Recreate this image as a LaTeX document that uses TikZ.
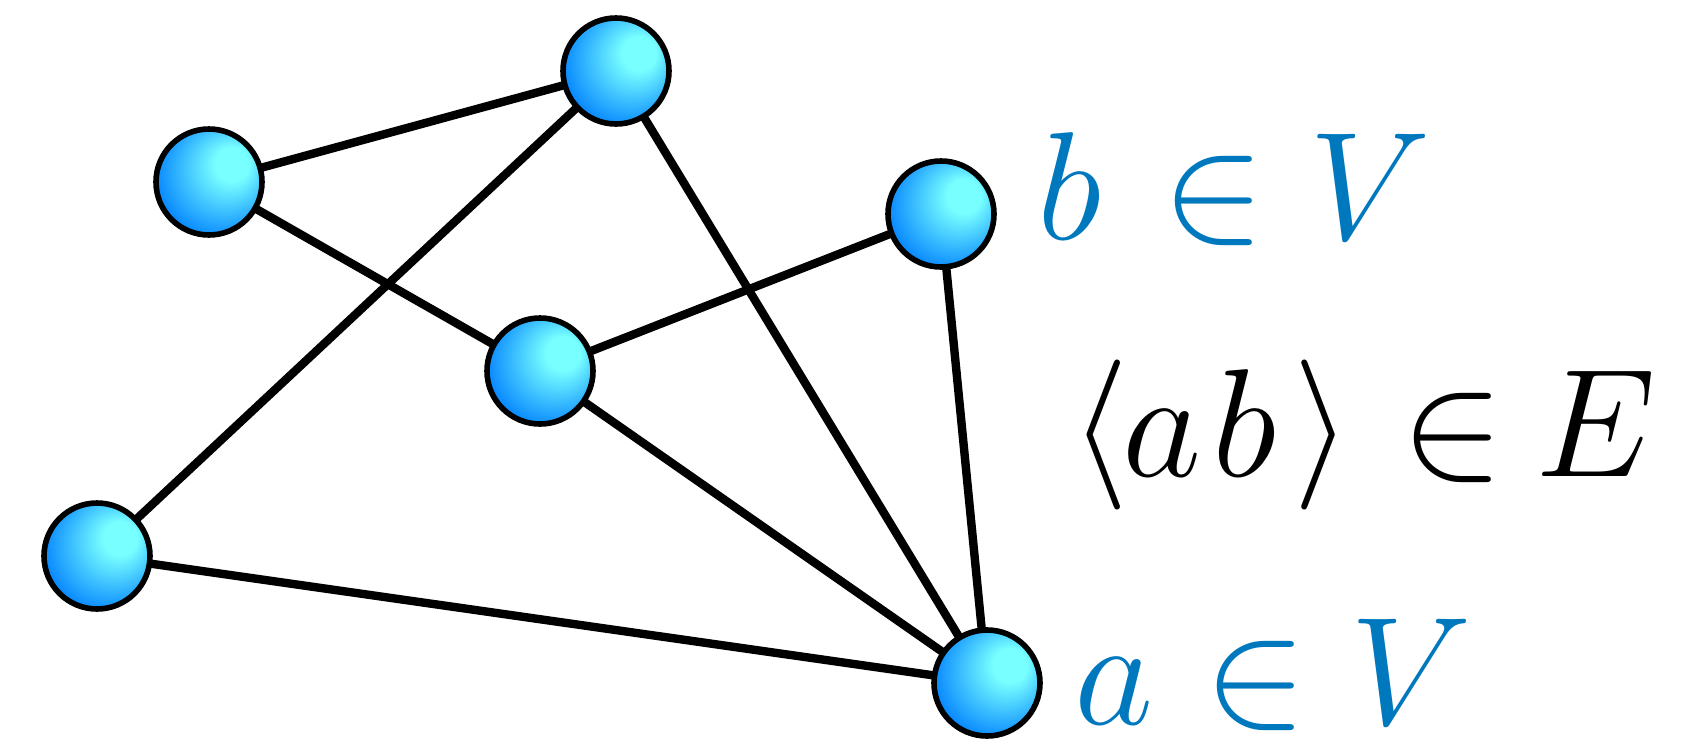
\RequirePackage{fix-cm}
\documentclass[tikz,border=0pt]{standalone}
\usepackage{amsmath}
\definecolor{hl}{HTML}{78FFFF}
\definecolor{dk}{HTML}{0080FF}
\definecolor{lblue}{RGB}{0,120,190}
\pgfdeclareradialshading{nodeball}{\pgfpoint{13bp}{10bp}}{color(0bp)=(hl); color(8bp)=(hl); color(32bp)=(dk); color(50bp)=(dk)}
\begin{document}
\begin{tikzpicture}[x=0.5pt,y=-0.5pt,
  vtx/.style={circle,minimum size=53pt,inner sep=0pt,draw=black,line width=2.8pt,shading=nodeball},
  edge/.style={line width=4.2pt,black},
  glyph/.style={anchor=base,inner sep=0pt,font=\fontsize{77}{92}\selectfont},
  brk/.style={anchor=center,inner sep=0pt,font=\fontsize{75}{90}\selectfont}]
\useasboundingbox (0,0) rectangle (1686,740);
\coordinate (pT) at (616,71);
\coordinate (pB) at (209,182);
\coordinate (pR) at (941,214);
\coordinate (pM) at (540,371);
\coordinate (pL) at (97,556);
\coordinate (pA) at (987,683);
\draw[edge] (pB) -- (pT);
\draw[edge] (pB) -- (pM);
\draw[edge] (pT) -- (pL);
\draw[edge] (pT) -- (pA);
\draw[edge] (pM) -- (pR);
\draw[edge] (pM) -- (pA);
\draw[edge] (pR) -- (pA);
\draw[edge] (pL) -- (pA);
\node[vtx] (T) at (pT) {};
\node[vtx] (B) at (pB) {};
\node[vtx] (R) at (pR) {};
\node[vtx] (M) at (pM) {};
\node[vtx] (L) at (pL) {};
\node[vtx] (A) at (pA) {};
% b in V
\node[glyph,text=lblue] (b1) at (1070,239) {$b$};
\node[glyph,text=lblue] (b2) at (1214,239) {$\in$};
\node[glyph,text=lblue] (b3) at (1370,239) {$V$};
% <ab> in E
\node[brk] (e0) at (1100,435) {$\langle$};
\node[glyph] (e1) at (1162,476) {$a$};
\node[glyph] (e2) at (1245,476) {$b$};
\node[brk] (e3) at (1323,435) {$\rangle$};
\node[glyph] (e4) at (1453,476) {$\in$};
\node[glyph] (e5) at (1596,476) {$E$};
% a in V
\node[glyph,text=lblue] (a1) at (1114,724) {$a$};
\node[glyph,text=lblue] (a2) at (1256,724) {$\in$};
\node[glyph,text=lblue] (a3) at (1411,724) {$V$};
\end{tikzpicture}
\end{document}
